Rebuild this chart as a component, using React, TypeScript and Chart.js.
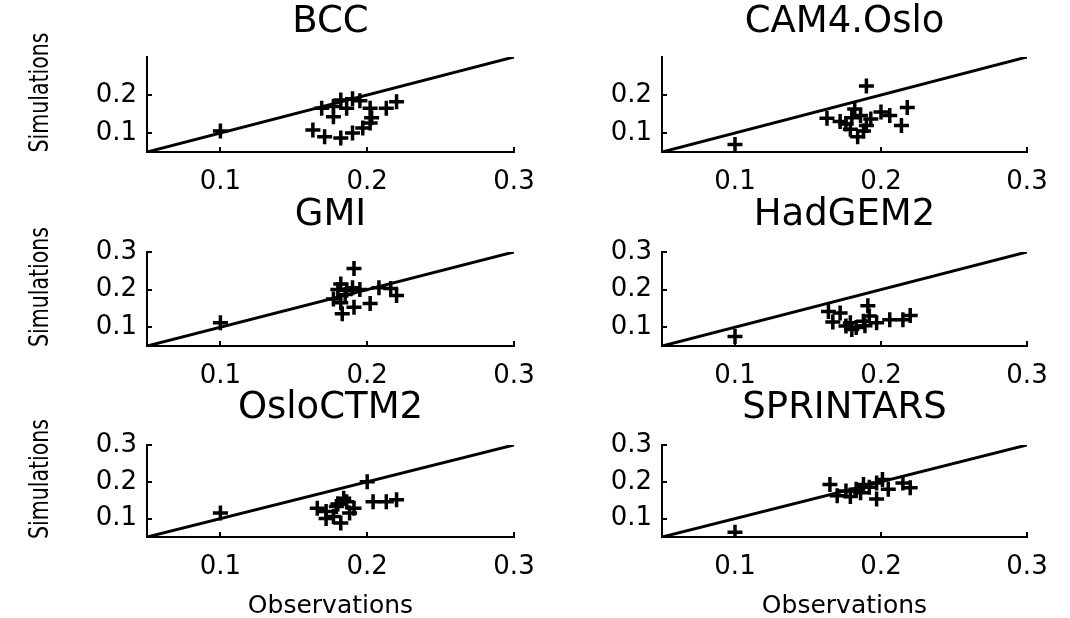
import React, { useEffect, useRef } from "react";
import { Chart, registerables } from "chart.js";

Chart.register(...registerables);

// ---- data ----
const models = ["BCC", "CAM4.Oslo", "GMI", "HadGEM2", "OsloCTM2", "SPRINTARS"];
const xTicks = [0.1, 0.2, 0.3];
const yTicksTopRow = [0.1, 0.2];
const yTicks = [0.1, 0.2, 0.3];
const oneToOne = [0.05, 0.3];
const xAxisLabel = "Observations";
const yAxisLabel = "Simulations";

const bccObs = [0.100, 0.163, 0.169, 0.171, 0.177, 0.177, 0.182, 0.182, 0.186, 0.190, 0.190, 0.195, 0.197, 0.202, 0.202, 0.213, 0.220, 0.203];
const bccSim = [0.105, 0.108, 0.165, 0.090, 0.143, 0.170, 0.087, 0.187, 0.165, 0.100, 0.190, 0.185, 0.113, 0.126, 0.165, 0.165, 0.182, 0.140];

const camObs = [0.100, 0.163, 0.172, 0.176, 0.179, 0.182, 0.184, 0.186, 0.190, 0.190, 0.193, 0.200, 0.206, 0.214, 0.218, 0.180, 0.188];
const camSim = [0.070, 0.139, 0.130, 0.124, 0.110, 0.163, 0.090, 0.146, 0.224, 0.120, 0.137, 0.155, 0.146, 0.120, 0.167, 0.140, 0.105];

const gmiObs = [0.100, 0.182, 0.186, 0.191, 0.190, 0.182, 0.183, 0.191, 0.202, 0.208, 0.216, 0.220, 0.177, 0.185, 0.195, 0.180];
const gmiSim = [0.112, 0.215, 0.198, 0.256, 0.205, 0.165, 0.136, 0.153, 0.163, 0.205, 0.203, 0.184, 0.175, 0.187, 0.200, 0.200];

const hadObs = [0.100, 0.164, 0.172, 0.167, 0.176, 0.183, 0.188, 0.192, 0.191, 0.197, 0.206, 0.215, 0.220, 0.180, 0.179, 0.189];
const hadSim = [0.075, 0.142, 0.138, 0.114, 0.103, 0.099, 0.116, 0.130, 0.157, 0.112, 0.120, 0.120, 0.131, 0.094, 0.112, 0.104];

const osloObs = [0.100, 0.200, 0.166, 0.172, 0.172, 0.177, 0.179, 0.182, 0.184, 0.186, 0.191, 0.204, 0.213, 0.220, 0.180, 0.188];
const osloSim = [0.115, 0.200, 0.128, 0.119, 0.100, 0.106, 0.133, 0.088, 0.155, 0.146, 0.128, 0.146, 0.146, 0.151, 0.140, 0.115];

const sprObs = [0.100, 0.165, 0.170, 0.176, 0.179, 0.183, 0.188, 0.192, 0.197, 0.201, 0.197, 0.215, 0.220, 0.186, 0.205];
const sprSim = [0.063, 0.193, 0.162, 0.175, 0.160, 0.180, 0.193, 0.185, 0.197, 0.206, 0.153, 0.197, 0.184, 0.170, 0.180];

const obsSets = [bccObs, camObs, gmiObs, hadObs, osloObs, sprObs];
const simSets = [bccSim, camSim, gmiSim, hadSim, osloSim, sprSim];

// ---- layout ----
const FONT = "'DejaVu Sans', sans-serif";
const colAreaLeft = [147, 662];
const colAreaRight = [514, 1027];
const colSidePad = [147, 100]; // symmetric space left/right of chart area so titles centre on the axes
const rowCanvasTop = [0, 193, 386];
const rowTitleY = [22, 215, 408];
const rowAreaTop = [57, 252, 445];
const rowAreaBottom = [152, 346, 537];
const rowXAxisH = [40, 40, 84];
const TITLE_SIZE = 37;

const inwardTicks = {
  id: "inwardTicks",
  afterDatasetsDraw(chart: any) {
    const { ctx, chartArea, scales } = chart;
    ctx.save();
    ctx.strokeStyle = "#000";
    ctx.lineWidth = 2;
    const xs = scales.x;
    const ys = scales.y;
    xs.ticks.forEach((t: any) => {
      const px = Math.round(xs.getPixelForValue(t.value));
      ctx.beginPath();
      ctx.moveTo(px, chartArea.bottom);
      ctx.lineTo(px, chartArea.bottom - 5);
      ctx.stroke();
    });
    ys.ticks.forEach((t: any) => {
      const py = Math.round(ys.getPixelForValue(t.value));
      ctx.beginPath();
      ctx.moveTo(chartArea.left, py);
      ctx.lineTo(chartArea.left + 5, py);
      ctx.stroke();
    });
    ctx.restore();
  },
};

// condensed, rotated y-axis label (left column only)
const yLabelPlugin = {
  id: "yLabel",
  afterDraw(chart: any, _args: any, opts: any) {
    if (!opts || !opts.text) return;
    const { ctx, chartArea } = chart;
    ctx.save();
    ctx.translate(opts.x, (chartArea.top + chartArea.bottom) / 2 - 12);
    ctx.rotate(-Math.PI / 2);
    ctx.scale(0.76, 1);
    ctx.fillStyle = "#000";
    ctx.font = `27px ${FONT}`;
    ctx.textAlign = "center";
    ctx.textBaseline = "middle";
    ctx.fillText(opts.text, 0, 0);
    ctx.restore();
  },
};

function Panel({ index }: { index: number }) {
  const ref = useRef<HTMLCanvasElement>(null);
  const col = index % 2;
  const row = Math.floor(index / 2);
  const pad = colSidePad[col];
  const left = colAreaLeft[col] - pad;
  const top = rowCanvasTop[row];
  const width = colAreaRight[col] + pad - left;
  const height = rowAreaBottom[row] - top + rowXAxisH[row];
  const lineH = TITLE_SIZE * 1.2;
  const titleTopPad = rowTitleY[row] - top - lineH / 2;
  const titleBottomPad = rowAreaTop[row] - top - titleTopPad - lineH;

  useEffect(() => {
    if (!ref.current) return;
    const obs = obsSets[index];
    const sim = simSets[index];
    const yT = row === 0 ? yTicksTopRow : yTicks;
    const chart = new Chart(ref.current, {
      type: "scatter",
      data: {
        datasets: [
          {
            type: "line",
            data: oneToOne.map((v) => ({ x: v, y: v })),
            borderColor: "#000",
            borderWidth: 3,
            pointRadius: 0,
            fill: false,
          } as any,
          {
            type: "scatter",
            data: obs.map((o, i) => ({ x: o, y: sim[i] })),
            pointStyle: "cross",
            pointRadius: 7.5,
            borderColor: "#000",
            backgroundColor: "#000",
            borderWidth: 3.5,
          } as any,
        ],
      },
      options: {
        animation: false,
        responsive: false,
        maintainAspectRatio: false,
        layout: { padding: 0 },
        plugins: {
          legend: { display: false },
          tooltip: { enabled: false },
          title: {
            display: true,
            text: models[index],
            color: "#000",
            font: { family: FONT, size: TITLE_SIZE, weight: "normal" },
            padding: { top: titleTopPad, bottom: titleBottomPad },
          },
          yLabel: { text: col === 0 ? yAxisLabel : "", x: 41 },
        },
        scales: {
          x: {
            type: "linear",
            min: 0.05,
            max: 0.3,
            afterBuildTicks: (s: any) => {
              s.ticks = xTicks.map((v) => ({ value: v }));
            },
            afterFit: (s: any) => {
              s.height = rowXAxisH[row];
            },
            ticks: {
              autoSkip: false,
              maxRotation: 0,
              color: "#000",
              padding: 15,
              font: { family: FONT, size: 26 },
              callback: (v: any) => Number(v).toFixed(1),
            },
            grid: { display: true, drawOnChartArea: false, drawTicks: false },
            border: { display: true, color: "#000", width: 2 },
            title: {
              display: row === 2,
              text: xAxisLabel,
              color: "#000",
              font: { family: FONT, size: 25 },
              padding: { top: 0, bottom: 0 },
            },
          },
          y: {
            type: "linear",
            min: 0.05,
            max: 0.3,
            afterBuildTicks: (s: any) => {
              s.ticks = yT.map((v) => ({ value: v }));
            },
            afterFit: (s: any) => {
              s.width = pad;
            },
            ticks: {
              autoSkip: false,
              color: "#000",
              padding: 10,
              font: { family: FONT, size: 26 },
              callback: (v: any) => Number(v).toFixed(1),
            },
            grid: { display: true, drawOnChartArea: false, drawTicks: false },
            border: { display: true, color: "#000", width: 2 },
          },
          // empty spacer on the right, mirrors the y-axis width so the title centres over the axes
          spacer: {
            type: "linear",
            position: "right",
            display: true,
            min: 0,
            max: 1,
            afterFit: (s: any) => {
              s.width = pad;
            },
            ticks: { display: false },
            grid: { display: false, drawTicks: false },
            border: { display: false },
          },
        },
      } as any,
      plugins: [inwardTicks, yLabelPlugin],
    });
    return () => chart.destroy();
  }, [index]);

  return (
    <canvas
      ref={ref}
      width={width}
      height={height}
      style={{ position: "absolute", left, top, width, height }}
    />
  );
}

export default function App() {
  return (
    <div
      style={{
        position: "fixed",
        left: 0,
        top: 0,
        width: 1070,
        height: 618,
        background: "#fff",
        overflow: "hidden",
      }}
    >
      {models.map((_, i) => (
        <Panel key={i} index={i} />
      ))}
    </div>
  );
}
